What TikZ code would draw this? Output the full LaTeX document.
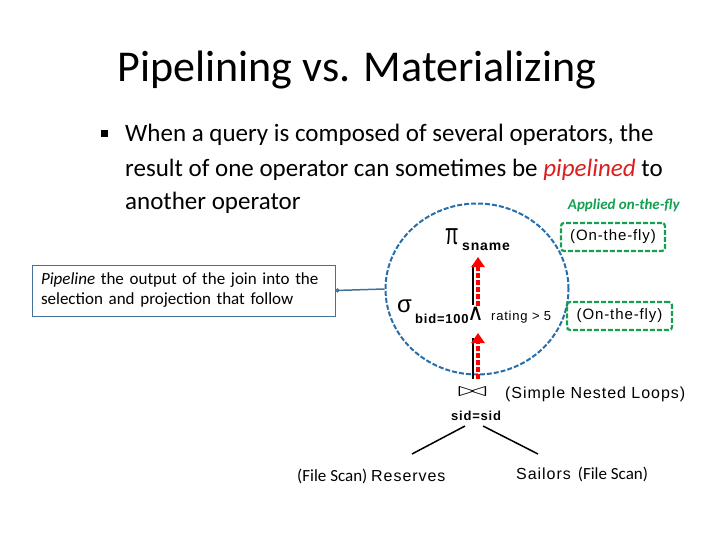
\documentclass[tikz,border=0pt]{standalone}
\usepackage{fontspec}
\setmainfont{Carlito}
\newfontfamily\arialf{Liberation Sans}
\newfontfamily\arialw{Liberation Sans}[LetterSpace=6]
\newfontfamily\dejaf{DejaVu Sans}
\usetikzlibrary{arrows.meta,shapes.geometric}
\definecolor{boxblue}{RGB}{65,113,156}
\definecolor{circblue}{RGB}{40,110,170}
\definecolor{flygreen}{RGB}{20,160,80}
\definecolor{pipered}{RGB}{220,30,30}

\begin{document}
\begin{tikzpicture}[x=1pt,y=-1pt,
  txt/.style={inner sep=0pt,anchor=base west},
  bullettxt/.style={txt,font=\fontsize{25}{30}\selectfont},
  lbl/.style={inner sep=0pt,anchor=base west,font=\arialw\fontsize{16}{18}\selectfont},
  sub/.style={inner sep=0pt,anchor=base west,font=\arialw\bfseries\fontsize{13}{15}\selectfont},
  flybox/.style={draw=flygreen,line width=2.2pt,dash pattern=on 5pt off 2pt,rounded corners=3pt,minimum height=28pt,
    inner sep=0pt,font=\arialw\fontsize{15}{17}\selectfont},
  flow/.style={draw=red,line width=4pt,dash pattern=on 5pt off 2pt,-{Triangle[length=10pt,width=13pt]}},
  side/.style={line width=2pt},
  branch/.style={line width=1.5pt}]
\useasboundingbox (0,0) rectangle (720,540);

% title and bullet
\node[anchor=base] (title) at (357,82) {\fontsize{44}{50}\selectfont Pipelining vs. Materializing};
\node[fill,minimum size=7pt,inner sep=0pt] (bul) at (104,134) {};
\node[bullettxt] (l1) at (125,142) {When a query is composed of several operators, the};
\node[bullettxt] (l2) at (125,177) {result of one operator can sometimes be \textcolor{pipered}{\textit{pipelined}} to};
\node[bullettxt] (l3) at (125,210) {another operator};
\node[inner sep=0pt,anchor=base east,text=flygreen,font=\bfseries\itshape\fontsize{15}{17}\selectfont] (appl) at (680,210) {Applied on-the-fly};

% note box and the pipelined part
\node[draw=boxblue,line width=1pt,text width=285pt,inner xsep=9pt,minimum height=51pt,align=left,
  font=\fontsize{17}{20}\selectfont] (pipe) at (183.5,290.5) {\textit{Pipeline} the output of the join into the\\selection and projection that follow};
\node[draw=circblue,line width=2pt,dash pattern=on 5pt off 2pt,ellipse,minimum width=183pt,minimum height=171pt,inner sep=0pt] (grp) at (477,289) {};
\draw[boxblue,line width=1.5pt,{Circle[length=4pt]}-] (pipe.east) -- (grp.west);

% operators
\node[txt,font=\arialf\fontsize{30}{30}\selectfont] (proj) at (445,244) {\scalebox{0.65}[1]{π}};
\node[sub,font=\arialw\bfseries\fontsize{14}{15}\selectfont] (sname) at (462,251) {sname};
\node[txt,font=\arialf\fontsize{24}{26}\selectfont] (sel) at (397,312) {σ};
\node[sub] (bid) at (415,323) {bid=100};
\node[txt,font=\dejaf\fontsize{23}{25}\selectfont] (and) at (467,320) {∧};
\node[txt,font=\arialw\fontsize{13}{15}\selectfont] (rate) at (491,320) {rating > 5};
\node[inner sep=0pt] (join) at (472.5,392) {\fontsize{18}{20}\selectfont\scalebox{2.1}[1.15]{$\bowtie$}};
\node[sub] (cond) at (451,420) {sid=sid};
\node[lbl] (snl) at (505,398) {(Simple Nested Loops)};

% flow arrows
\coordinate (u1) at (478,306); \coordinate (u2) at (478,257);
\coordinate (d1) at (478,379); \coordinate (d2) at (478,333);
\draw[side] (473,265) -- (473,305);
\draw[side] (473,338) -- (473,379);
\draw[flow] (u1) -- (u2);
\draw[flow] (d1) -- (d2);

\node[flybox,minimum width=104pt] (fly1) at (613,237) {(On-the-fly)};
\node[flybox,minimum width=105pt] (fly2) at (619.5,316) {(On-the-fly)};

% scans
\coordinate (jl) at (465,426); \coordinate (jr) at (483,426);
\node[txt] (res) at (297,481) {\fontsize{17}{19}\selectfont (File Scan) {\arialw\fontsize{16}{18}\selectfont Reserves}};
\node[txt] (sail) at (516,479) {{\arialw\fontsize{16}{18}\selectfont Sailors}\hspace{7pt}\fontsize{17}{19}\selectfont(File Scan)};
\coordinate (rl) at (412,454); \coordinate (sr) at (538,454);
\draw[branch] (jl) -- (rl);
\draw[branch] (jr) -- (sr);

\end{tikzpicture}
\end{document}
